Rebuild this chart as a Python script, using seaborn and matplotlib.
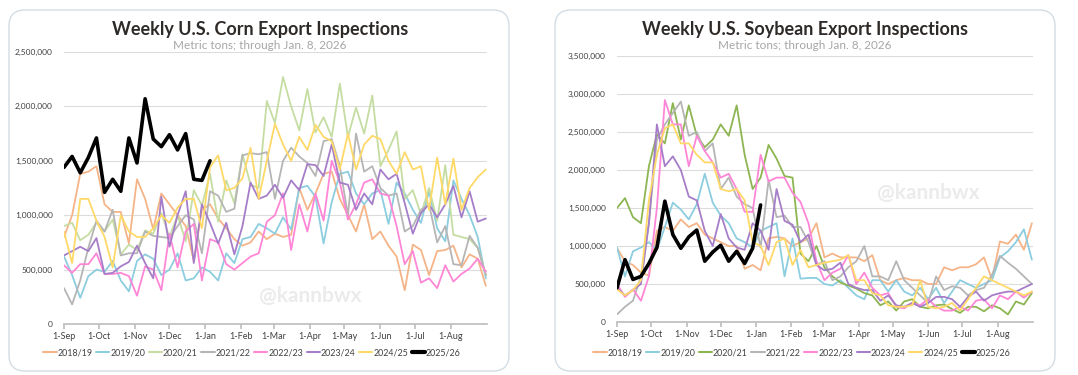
import numpy as np
import pandas as pd
import matplotlib
matplotlib.use('Agg')
import matplotlib.pyplot as plt
from matplotlib.patches import FancyBboxPatch
from matplotlib.ticker import FuncFormatter
import seaborn as sns

# ---- data (thousand metric tons per week, starting 1-Sep) ----
seasons = ['2018/19', '2019/20', '2020/21', '2021/22', '2022/23', '2023/24', '2024/25', '2025/26']

corn_1819 = [800, 1000, 1380, 1400, 1450, 1100, 1030, 1030, 740, 1330,
             1150, 870, 1200, 1100, 1000, 900, 580, 1050, 1100, 970,
             880, 780, 720, 750, 850, 780, 830, 800, 820, 1250,
             1050, 1200, 1380, 1400, 1150, 1000, 850, 1100, 780, 850,
             720, 620, 310, 730, 680, 450, 670, 680, 720, 520,
             640, 600, 350]
corn_1920 = [620, 450, 240, 440, 500, 480, 580, 400, 300, 580,
             640, 600, 450, 500, 650, 400, 420, 520, 480, 400,
             650, 560, 780, 800, 920, 880, 830, 980, 870, 1250,
             1270, 1170, 740, 1120, 1380, 1400, 1200, 1100, 1200, 1230,
             920, 1300, 1200, 1050, 930, 1220, 880, 760, 1320, 1150,
             1000, 800, 420]
corn_2021 = [900, 930, 770, 820, 930, 850, 960, 640, 730, 680,
             860, 830, 1020, 800, 1000, 760, 1230, 1090, 1380, 940,
             1320, 1110, 1560, 1280, 1250, 2050, 1850, 2270, 2000, 1780,
             2160, 1760, 1900, 1720, 2210, 1720, 1990, 1750, 2100, 1450,
             1600, 1770, 1150, 1230, 1010, 1250, 950, 1460, 820, 800,
             780, 700, 450]
corn_2122 = [330, 180, 400, 700, 950, 850, 1050, 630, 650, 650,
             850, 810, 800, 790, 900, 1000, 960, 650, 1220, 1180,
             1030, 1060, 1550, 1570, 1560, 1580, 1150, 1500, 1620, 1540,
             1480, 1360, 1680, 1700, 1450, 1000, 1750, 1400, 1450, 1250,
             1180, 1200, 850, 900, 1050, 1100, 750, 900, 550, 540,
             810, 700, 450]
corn_2223 = [540, 470, 550, 550, 650, 460, 460, 470, 440, 260,
             530, 500, 310, 830, 520, 850, 920, 400, 780, 750,
             550, 500, 560, 620, 650, 940, 1000, 1200, 680, 1100,
             850, 1200, 950, 1500, 1300, 960, 1100, 1300, 1330, 1200,
             1180, 900, 550, 670, 380, 420, 330, 540, 390, 460,
             510, 600, 480]
corn_2324 = [630, 670, 710, 670, 790, 460, 470, 530, 570, 720,
             560, 420, 1170, 710, 1000, 1220, 560, 1100, 930, 740,
             930, 640, 900, 1300, 1150, 1180, 1280, 1160, 1320, 1230,
             1470, 1460, 1360, 1650, 1300, 1280, 1050, 1200, 1100, 1420,
             1330, 1380, 1110, 830, 1020, 1100, 980, 1100, 1270, 980,
             1220, 940, 970]
corn_2425 = [850, 560, 1150, 1150, 950, 800, 520, 1000, 850, 800,
             800, 880, 1000, 930, 1070, 1150, 1150, 880, 1440, 1550,
             1230, 1250, 1340, 1620, 1150, 1500, 1840, 1650, 1500, 1720,
             1600, 1830, 1720, 1680, 1420, 1750, 1420, 1650, 1730, 1700,
             1500, 1380, 1580, 1420, 1450, 1050, 1530, 1100, 1520, 1050,
             1250, 1350, 1420]
corn_2526 = [1440, 1540, 1390, 1530, 1710, 1210, 1330, 1220, 1710, 1480,
             2070, 1700, 1630, 1740, 1600, 1750, 1330, 1320, 1500]

soy_1819 = [970, 800, 750, 650, 610, 1200, 1250, 1200, 1350, 1250,
            1300, 1150, 1100, 1050, 1000, 1000, 700, 750, 680, 1100,
            1120, 1100, 1000, 1050, 1100, 1300, 850, 900, 850, 850,
            850, 800, 880, 550, 500, 550, 580, 550, 550, 500,
            500, 720, 680, 720, 720, 760, 850, 560, 1060, 1030,
            1150, 950, 1300]
soy_1920 = [980, 600, 930, 980, 1050, 950, 1250, 1570, 1480, 1350,
            1550, 1950, 1570, 1400, 1300, 1100, 1050, 980, 1200, 1250,
            1300, 600, 1100, 570, 580, 580, 500, 480, 550, 450,
            350, 300, 550, 550, 400, 550, 400, 350, 450, 300,
            450, 250, 400, 550, 500, 450, 500, 550, 850, 930,
            1050, 1220, 820]
soy_2021 = [1500, 1630, 1380, 1300, 2050, 2470, 2350, 2880, 2400, 2850,
            2450, 2300, 2400, 2600, 2450, 2850, 2200, 1750, 1900, 2330,
            2150, 1920, 1900, 900, 800, 1000, 720, 600, 520, 480,
            440, 380, 350, 220, 270, 150, 270, 300, 200, 180,
            220, 230, 170, 120, 200, 200, 140, 220, 180, 100,
            270, 230, 380]
soy_2122 = [100, 200, 280, 600, 1300, 2400, 2600, 2750, 2900, 2450,
            2500, 2250, 2350, 1750, 1900, 1650, 1550, 1500, 980, 1870,
            1380, 1400, 1250, 1250, 1050, 750, 800, 550, 600, 720,
            800, 1000, 600, 600, 550, 800, 550, 450, 350, 250,
            600, 420, 470, 450, 350, 420, 450, 620, 870, 780,
            700, 600, 500]
soy_2223 = [500, 330, 430, 280, 600, 1500, 2920, 2600, 2600, 2050,
            2450, 2250, 2100, 1900, 1950, 1750, 1450, 1450, 2200, 1850,
            1900, 1900, 1700, 1580, 1300, 800, 550, 650, 700, 880,
            500, 650, 450, 350, 380, 200, 180, 250, 220, 300,
            200, 150, 150, 200, 150, 280, 300, 180, 350, 300,
            400, 320, 400]
soy_2324 = [450, 350, 420, 500, 1300, 2600, 2050, 2180, 2000, 1650,
            1600, 1200, 1000, 1420, 1100, 980, 950, 1300, 1200, 950,
            1750, 1330, 1280, 1050, 1150, 750, 680, 700, 780, 500,
            450, 420, 420, 280, 350, 220, 200, 250, 200, 250,
            330, 330, 300, 200, 330, 400, 280, 350, 380, 400,
            400, 450, 500]
soy_2425 = [430, 350, 420, 550, 1600, 2200, 2550, 2600, 2350, 2350,
            2200, 2100, 2100, 1750, 1720, 1750, 1600, 1050, 1000, 750,
            1050, 1100, 750, 950, 720, 750, 780, 800, 820, 880,
            550, 550, 380, 350, 220, 200, 200, 220, 550, 200,
            180, 200, 250, 150, 300, 450, 600, 550, 500, 450,
            400, 350, 400]
soy_2526 = [450, 820, 560, 600, 770, 980, 1590, 1150, 970, 1120,
            1210, 800, 920, 1010, 800, 930, 770, 970, 1540]

month_labels = ['1-Sep', '1-Oct', '1-Nov', '1-Dec', '1-Jan', '1-Feb',
                '1-Mar', '1-Apr', '1-May', '1-Jun', '1-Jul', '1-Aug']
month_days = [0, 30, 61, 91, 122, 153, 181, 212, 242, 273, 303, 334]

corn_colors = ['#F5B488', '#8CCDDF', '#C5DDA2', '#B5B5B5', '#FF86D6', '#A67DC8', '#FFD968', '#000000']
soy_colors = ['#F5B488', '#8CCDDF', '#8DB552', '#B5B5B5', '#FF86D6', '#A67DC8', '#FFD968', '#000000']

corn = [corn_1819, corn_1920, corn_2021, corn_2122, corn_2223, corn_2324, corn_2425, corn_2526]
soy = [soy_1819, soy_1920, soy_2021, soy_2122, soy_2223, soy_2324, soy_2425, soy_2526]

sns.set_theme(style='white')
plt.rcParams['font.family'] = ['Lato', 'DejaVu Sans']

W, H = 1078, 375
fig = plt.figure(figsize=(W / 100, H / 100), dpi=100)
fig.patch.set_facecolor('white')

# rounded card outlines (pixel coords), kept behind the axes
for x0, x1 in [(9, 509), (555, 1055)]:
    fig.patches.append(FancyBboxPatch((x0, 4), x1 - x0, 361,
                                      boxstyle='round,pad=0,rounding_size=16',
                                      transform=None, facecolor='none',
                                      edgecolor='#D3DCE3', linewidth=1.0,
                                      zorder=-10))


def draw(ax, data, colors, ymax, title, title_x, wm_xy, leg_x):
    ax.patch.set_alpha(0)
    for name, vals, c in zip(seasons, data, colors):
        df = pd.DataFrame({'day': np.arange(len(vals)) * 7, 'v': np.array(vals) * 1000})
        lw = 2.6 if c == '#000000' else 1.3
        sns.lineplot(data=df, x='day', y='v', ax=ax, color=c, linewidth=lw,
                     label=name, zorder=5 if c == '#000000' else 2)
    ax.set_xlim(0, 365)
    ax.set_ylim(0, ymax)
    ax.set_yticks(np.arange(0, ymax + 1, 500000))
    ax.yaxis.set_major_formatter(FuncFormatter(lambda v, p: f'{int(v):,}'))
    ax.set_xticks(month_days)
    ax.set_xticklabels(month_labels)
    ax.grid(axis='y', color='#DCDCDC', linewidth=0.8)
    ax.set_axisbelow(True)
    for s in ['top', 'right', 'left']:
        ax.spines[s].set_visible(False)
    ax.spines['bottom'].set_color('#BFBFBF')
    ax.tick_params(axis='x', length=3.5, color='#BFBFBF', labelsize=6.5,
                   labelcolor='#404040', pad=2, bottom=True)
    ax.tick_params(axis='y', length=0, labelsize=6, labelcolor='#404040', pad=8)
    ax.set_xlabel('')
    ax.set_ylabel('')
    ax.text(wm_xy[0], wm_xy[1], '@kannbwx', transform=fig.transFigure,
            ha='center', va='center', fontsize=15, fontweight='bold',
            color='#EBEBEB', zorder=0)
    fig.text(title_x, 1 - 30 / H, title, ha='center', va='center',
             fontsize=13, fontweight='bold', color='#2E2A28')
    fig.text(title_x, 1 - 45.5 / H, 'Metric tons; through Jan. 8, 2026',
             ha='center', va='center', fontsize=8.5, color='#A6A6A6')
    h, l = ax.get_legend_handles_labels()
    leg = ax.legend(h, l, loc='center', bbox_to_anchor=(leg_x, 1 - 353 / H),
                    bbox_transform=fig.transFigure, ncol=8, frameon=False,
                    fontsize=6.4, handlelength=1.5, handletextpad=0.1,
                    columnspacing=0.4, borderaxespad=0, borderpad=0,
                    labelcolor='#404040')
    for line in leg.get_lines():
        line.set_linewidth(3.0 if line.get_color() == '#000000' else 1.5)


ax1 = fig.add_axes([64 / W, 1 - 324 / H, (487 - 64) / W, (324 - 52) / H])
draw(ax1, corn, corn_colors, 2500000, 'Weekly U.S. Corn Export Inspections',
     260 / W, (310 / W, 1 - 296 / H), 252 / W)

ax2 = fig.add_axes([617 / W, 1 - 322 / H, (1033 - 617) / W, (322 - 56) / H])
draw(ax2, soy, soy_colors, 3500000, 'Weekly U.S. Soybean Export Inspections',
     805 / W, (928 / W, 1 - 193 / H), 802 / W)

fig.savefig('out.png', dpi=100, facecolor='white')
